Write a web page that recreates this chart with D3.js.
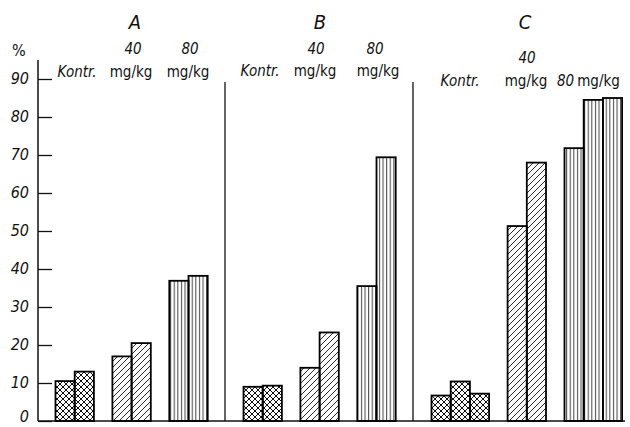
<!DOCTYPE html>
<html><head><meta charset="utf-8">
<script src="https://cdn.jsdelivr.net/npm/d3@7"></script>
<style>
body{margin:0;background:#fff;}
text{font-family:"DejaVu Sans Condensed","DejaVu Sans",sans-serif;font-stretch:condensed;fill:#111;}
.it{font-style:italic;}
</style></head>
<body><svg id="c" width="630" height="427"></svg>
<script>
const panels = ["A","B","C"];
const doses = ["Kontr.","40 mg/kg","80 mg/kg"];
const valuesA = [[10.5,13],[17,20.5],[36.9,38.2]];
const valuesB = [[9,9.3],[14,23.3],[35.5,69.4]];
const valuesC = [[6.7,10.4,7.2],[51.3,68],[71.8,84.5,85]];
const yTicks = [0,10,20,30,40,50,60,70,80,90];
const values = [valuesA, valuesB, valuesC];

const svg = d3.select("#c");
const defs = svg.append("defs");
const cross = defs.append("pattern").attr("id","cross").attr("patternUnits","userSpaceOnUse").attr("width",6).attr("height",6);
cross.append("path").attr("d","M0,0 L6,6 M6,0 L0,6 M-1,5 L1,7 M5,-1 L7,1 M-1,1 L1,-1 M5,7 L7,5").attr("stroke","#111").attr("stroke-width",1);
const diag = defs.append("pattern").attr("id","diag").attr("patternUnits","userSpaceOnUse").attr("width",6).attr("height",6);
diag.append("path").attr("d","M-1,7 L7,-1 M-1,1 L1,-1 M5,7 L7,5").attr("stroke","#111").attr("stroke-width",0.9);
const vert = defs.append("pattern").attr("id","vert").attr("patternUnits","userSpaceOnUse").attr("width",3.6).attr("height",10);
vert.append("path").attr("d","M1.5,0 L1.5,10").attr("stroke","#222").attr("stroke-width",0.9);
const fills = ["url(#cross)","url(#diag)","url(#vert)"];

const y = d3.scaleLinear().domain([0,90]).range([421,79]);
const xPanel = d3.scaleBand().domain(panels).range([37,601]).paddingInner(0).paddingOuter(0);
const barW = 19.2, gap = 18.5;

const yAxis = d3.axisLeft(y).tickValues(yTicks).tickSizeInner(-14).tickSizeOuter(0).tickPadding(9);
const gy = svg.append("g").attr("transform","translate(38,0)").call(yAxis);
gy.select(".domain").remove();
gy.selectAll(".tick line").attr("stroke","#111").attr("stroke-width",1.3);
gy.selectAll(".tick text").attr("class","it").attr("dy",d=>d===0?"0.05em":"0.3em").attr("font-family",null).attr("font-size",null)
  .style("font-size","16px").attr("fill","#111");
svg.append("line").attr("x1",38).attr("x2",38).attr("y1",60).attr("y2",y(0)).attr("stroke","#111").attr("stroke-width",1.5);
svg.append("text").attr("x",12).attr("y",56).style("font-size","16px").text("%");

svg.append("line").attr("x1",38).attr("x2",625).attr("y1",y(0)).attr("y2",y(0)).attr("stroke","#111").attr("stroke-width",1.5);
panels.slice(1).forEach(p=>{
  svg.append("line").attr("x1",xPanel(p)).attr("x2",xPanel(p)).attr("y1",82).attr("y2",y(0)).attr("stroke","#111").attr("stroke-width",1.3);
});

const bars = [];
panels.forEach((p,pi)=>{
  let x = xPanel(p) + gap;
  values[pi].forEach((grp,di)=>{
    grp.forEach(v=>{ bars.push({p, di, v, x}); x += barW; });
    x += gap;
  });
});
svg.append("g").selectAll("rect").data(bars).join("rect")
  .attr("x",d=>d.x).attr("y",d=>y(d.v)).attr("width",barW).attr("height",d=>y(0)-y(d.v))
  .attr("fill",d=>fills[d.di]).attr("stroke","#000").attr("stroke-width",1.8);

const titleX = {A:135,B:320,C:525};
panels.forEach(p=>{
  svg.append("text").attr("class","it").attr("x",titleX[p]).attr("y",29).attr("text-anchor","middle").style("font-size","20px").text(p);
});
function lab(x,yy,t,it,anchor){
  return svg.append("text").attr("class",it?"it":null).attr("x",x).attr("y",yy).attr("text-anchor",anchor||"middle").style("font-size","15px").text(t);
}
const kontr = doses[0];
const [d40n, mg] = doses[1].split(" ");
const d80n = doses[2].split(" ")[0];
// A
lab(77,77,kontr,true); lab(133,54,d40n,true); lab(131,77,mg,false); lab(190,54,d80n,true); lab(188,77,mg,false);
// B
lab(260,76,kontr,true); lab(316,54,d40n,true); lab(315,76,mg,false); lab(375,54,d80n,true); lab(378,76,mg,false);
// C
lab(460,86,kontr,true); lab(527,63,d40n,true); lab(526,86,mg,false);
const t80 = svg.append("text").attr("x",557).attr("y",86).style("font-size","15px");
t80.append("tspan").attr("class","it").text(d80n);
t80.append("tspan").attr("dx",3).text(mg);
</script></body></html>
